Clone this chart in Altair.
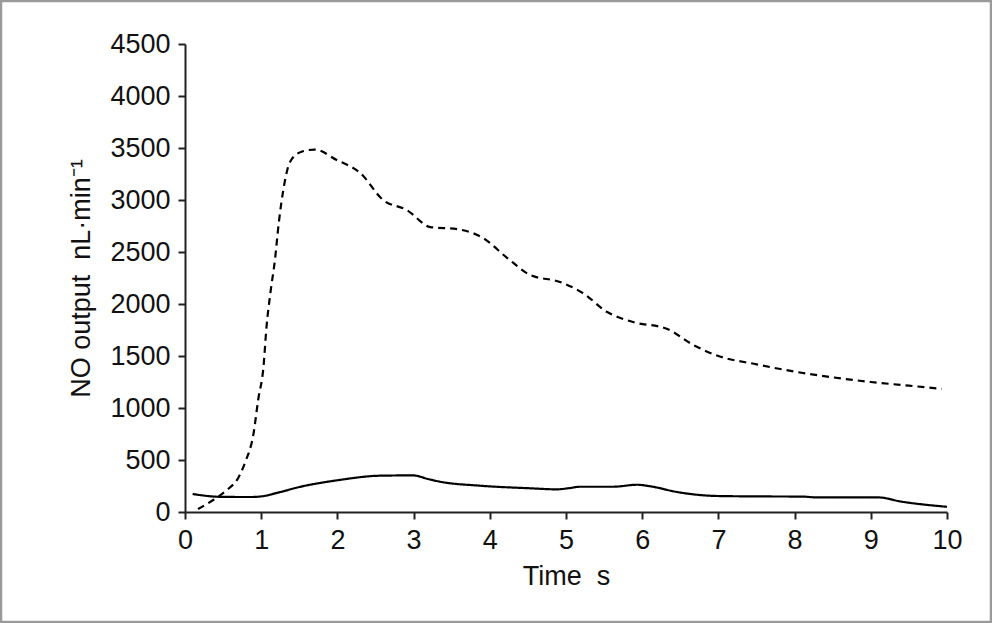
import altair as alt
import pandas as pd

# Dashed curve (upper)
dashed_x = [0.17, 0.37, 0.55, 0.70, 0.79, 0.90, 0.96, 1.03, 1.07, 1.12, 1.18, 1.23,
            1.29, 1.38, 1.53, 1.70, 1.99, 2.30, 2.60, 2.91, 3.22, 3.57, 3.91, 4.23,
            4.53, 4.92, 5.22, 5.54, 5.88, 6.33, 6.67, 7.0, 7.5, 8.0, 8.5, 9.0, 9.5, 9.93]
dashed_y = [29, 115, 212, 330, 480, 757, 1077, 1397, 1782, 2103, 2423, 2776,
            3096, 3368, 3464, 3485, 3385, 3260, 3000, 2904, 2740, 2720, 2635, 2442,
            2279, 2212, 2106, 1923, 1827, 1760, 1606, 1500, 1420, 1350, 1295, 1250, 1215, 1183]

# Solid curve (lower)
solid_x = [0.1, 0.46, 0.85, 1.0, 1.25, 1.5, 2.0, 2.56, 2.99, 3.2, 3.35, 3.87, 4.53,
           4.88, 5.05, 5.18, 5.62, 5.93, 6.1, 6.46, 6.98, 7.5, 8.1, 8.3, 9.1, 9.4, 10.0]
solid_y = [173, 146, 144, 150, 192, 240, 305, 349, 352, 315, 291, 253, 228,
           218, 230, 243, 243, 262, 248, 192, 154, 150, 148, 140, 140, 100, 50]

x_ticks = list(range(0, 11))
y_ticks = list(range(0, 4501, 500))

df = pd.concat([
    pd.DataFrame({"t": dashed_x, "v": dashed_y, "s": "dashed"}),
    pd.DataFrame({"t": solid_x, "v": solid_y, "s": "solid"}),
])

FONT = "Liberation Sans, Arial, sans-serif"

lines = alt.Chart(df).mark_line(color="black", strokeWidth=2.2, interpolate="monotone").encode(
    x=alt.X("t:Q", scale=alt.Scale(domain=[0, 10], nice=False),
            axis=alt.Axis(values=x_ticks, title="Time\u00a0\u00a0s", format="d")),
    y=alt.Y("v:Q", scale=alt.Scale(domain=[0, 4500], nice=False),
            axis=alt.Axis(values=y_ticks, title="NO output\u00a0\u00a0nL·min⁻¹", format="d")),
    strokeDash=alt.StrokeDash("s:N", scale=alt.Scale(domain=["dashed", "solid"],
                                                     range=[[7, 5], [1, 0]]), legend=None),
)

border = alt.Chart(pd.DataFrame({"a": [0]})).mark_rect(
    fillOpacity=0, stroke="#9a9a9a", strokeWidth=2.5
).encode(x=alt.value(-184), x2=alt.value(806), y=alt.value(-43), y2=alt.value(578))

chart = alt.layer(lines, border).properties(
    width=762, height=468,
    autosize=alt.AutoSizeParams(type="none"),
    padding={"left": 185, "top": 44, "right": 45, "bottom": 111},
    background="white",
).configure_view(stroke=None).configure_axis(
    grid=False,
    domainColor="#222", domainWidth=2,
    tickColor="#222", tickWidth=2, tickSize=7,
    labelFont=FONT, labelFontSize=27, labelColor="#111", labelFlush=False,
    titleFont=FONT, titleFontSize=27, titleColor="#111", titleFontWeight="normal",
).configure_axisX(labelPadding=8, titlePadding=10
).configure_axisY(labelPadding=8, titlePadding=14)

chart.save("out.html", embed_options={"renderer": "svg", "actions": False})
